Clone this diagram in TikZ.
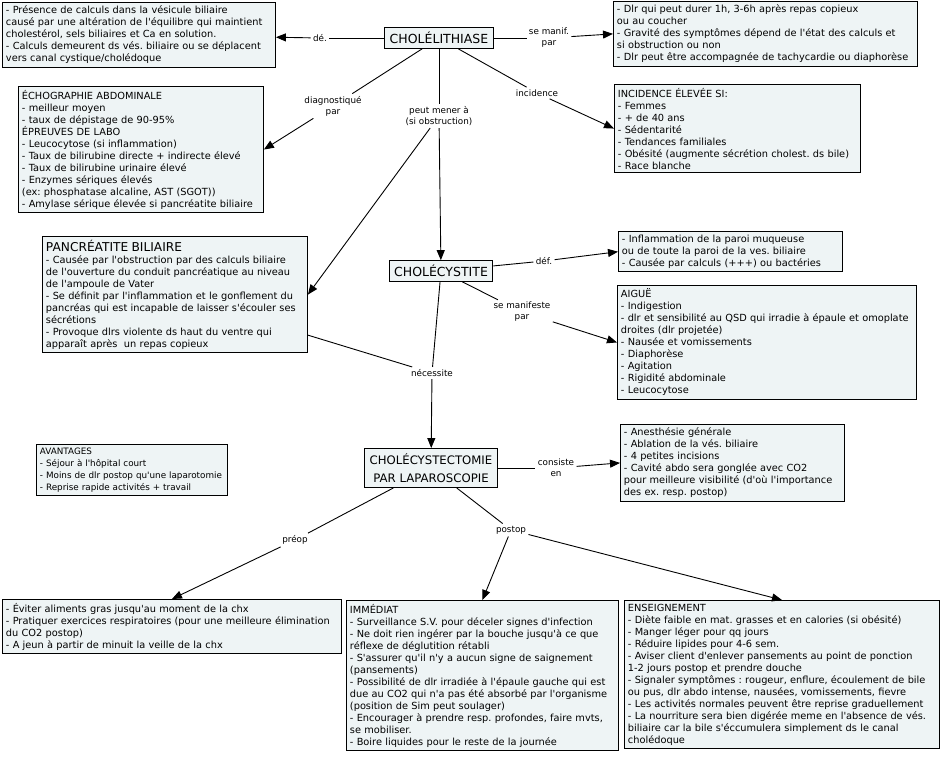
\documentclass[tikz,border=0pt]{standalone}
\usepackage{fontspec}
\setmainfont{DejaVu Sans}
\newfontfamily\mapfont{DejaVu Sans}
\usetikzlibrary{arrows.meta}
\definecolor{boxfill}{HTML}{EEF4F5}
\frenchspacing

\begin{document}
\begin{tikzpicture}[x=1pt,y=-1pt,line width=0.9pt,>={Triangle[length=10pt,width=8pt]}]
        %
        % `concept' is used for the three main boxes.
        % `infobox' is used for the text boxes, `link' for the linking words.
        \tikzstyle{concept} = [draw,fill=boxfill,align=center,font=\mapfont\fontsize{12.5}{14.5}\selectfont,inner xsep=5pt,inner ysep=4.5pt]
        \tikzstyle{infobox} = [draw,fill=boxfill,anchor=north west,align=left,font=\mapfont\fontsize{9.8}{12}\selectfont,inner xsep=3.5pt,inner ysep=3.5pt]
        \tikzstyle{link} = [align=center,font=\mapfont\fontsize{8.8}{11}\selectfont,inner sep=2pt]
        \useasboundingbox (0,0) rectangle (941,758);
        %
        % Concepts
        \node[concept] (chol) at (439,38) {CHOLÉLITHIASE};
        \node[concept] (cyst) at (441,271) {CHOLÉCYSTITE};
        \node[concept,font=\mapfont\fontsize{11.7}{18}\selectfont,inner ysep=5pt] (ectomie) at (431,468) {CHOLÉCYSTECTOMIE\\PAR LAPAROSCOPIE};
        %
        % Top row
        \node[infobox,text width=266] (defbox) at (2,2) {- Présence de calculs dans la vésicule biliaire\\
causé par une altération de l'équilibre qui maintient\\
cholestérol, sels biliaires et Ca en solution.\\
- Calculs demeurent ds vés. biliaire ou se déplacent\\
vers canal cystique/cholédoque};
        \node[infobox,text width=297] (manifbox) at (613,1) {- Dlr qui peut durer 1h, 3-6h après repas copieux\\
ou au coucher\\
- Gravité des symptômes dépend de l'état des calculs et\\
si obstruction ou non\\
- Dlr peut être accompagnée de tachycardie ou diaphorèse};
        %
        % Second row
        \node[infobox,text width=238] (echobox) at (18,86) {ÉCHOGRAPHIE ABDOMINALE\\
- meilleur moyen\\
- taux de dépistage de 90-95\%\\
ÉPREUVES DE LABO\\
- Leucocytose (si inflammation)\\
- Taux de bilirubine directe + indirecte élevé\\
- Taux de bilirubine urinaire élevé\\
- Enzymes sériques élevés\\
(ex: phosphatase alcaline, AST (SGOT))\\
- Amylase sérique élevée si pancréatite biliaire};
        \node[infobox,text width=239] (incbox) at (614,84) {INCIDENCE ÉLEVÉE SI:\\
- Femmes\\
- + de 40 ans\\
- Sédentarité\\
- Tendances familiales\\
- Obésité (augmente sécrétion cholest. ds bile)\\
- Race blanche};
        %
        % Third row
        \node[infobox,text width=258] (pancbox) at (42,236) {{\fontsize{12.2}{15}\selectfont PANCRÉATITE BILIAIRE}\\
- Causée par l'obstruction par des calculs biliaire\\
de l'ouverture du conduit pancréatique au niveau\\
de l'ampoule de Vater\\
- Se définit par l'inflammation et le gonflement du\\
pancréas qui est incapable de laisser s'écouler ses\\
sécrétions\\
- Provoque dlrs violente ds haut du ventre qui\\
apparaît après\ \ un repas copieux};
        \node[infobox,text width=217] (inflbox) at (618,231) {- Inflammation de la paroi muqueuse\\
ou de toute la paroi de la ves. biliaire\\
- Causée par calculs (+++) ou bactéries};
        \node[infobox,text width=292] (aiguebox) at (617,285) {AIGUË\\
- Indigestion\\
- dlr et sensibilité au QSD qui irradie à épaule et omoplate\\
droites (dlr projetée)\\
- Nausée et vomissements\\
- Diaphorèse\\
- Agitation\\
- Rigidité abdominale\\
- Leucocytose};
        %
        % Fourth row
        \node[infobox,text width=184,font=\mapfont\fontsize{8.8}{12}\selectfont] (avantbox) at (36,444) {AVANTAGES\\
- Séjour à l'hôpital court\\
- Moins de dlr postop qu'une laparotomie\\
- Reprise rapide activités + travail};
        \node[infobox,text width=217] (consbox) at (620,424) {- Anesthésie générale\\
- Ablation de la vés. biliaire\\
- 4 petites incisions\\
- Cavité abdo sera gonglée avec CO2\\
pour meilleure visibilité (d'où l'importance\\
des ex. resp. postop)};
        %
        % Bottom row
        \node[infobox,text width=332] (preopbox) at (2,599) {- Éviter aliments gras jusqu'au moment de la chx\\
- Pratiquer exercices respiratoires (pour une meilleure élimination\\
du CO2 postop)\\
- A jeun à partir de minuit la veille de la chx};
        \node[infobox,text width=265] (immedbox) at (346,600) {IMMÉDIAT\\
- Surveillance S.V. pour déceler signes d'infection\\
- Ne doit rien ingérer par la bouche jusqu'à ce que\\
réflexe de déglutition rétabli\\
- S'assurer qu'il n'y a aucun signe de saignement\\
(pansements)\\
- Possibilité de dlr irradiée à l'épaule gauche qui est\\
due au CO2 qui n'a pas été absorbé par l'organisme\\
(position de Sim peut soulager)\\
- Encourager à prendre resp. profondes, faire mvts,\\
se mobiliser.\\
- Boire liquides pour le reste de la journée};
        \node[infobox,text width=308] (ensbox) at (624,600) {ENSEIGNEMENT\\
- Diète faible en mat. grasses et en calories (si obésité)\\
- Manger léger pour qq jours\\
- Réduire lipides pour 4-6 sem.\\
- Aviser client d'enlever pansements au point de ponction\\
1-2 jours postop et prendre douche\\
- Signaler symptômes : rougeur, enflure, écoulement de bile\\
ou pus, dlr abdo intense, nausées, vomissements, fievre\\
- Les activités normales peuvent être reprise graduellement\\
- La nourriture sera bien digérée meme en l'absence de vés.\\
biliaire car la bile s'éccumulera simplement ds le canal\\
cholédoque};
        %
        % Linking words
        \node[link] (lde) at (320,38) {dé.};
        \node[link] (lmanif) at (549,38) {se manif.\\par};
        \node[link] (ldiag) at (333,106) {diagnostiqué\\par};
        \node[link] (lmener) at (439,116) {peut mener à\\(si obstruction)};
        \node[link] (lincid) at (537,93) {incidence};
        \node[link] (ldef) at (544,261) {déf.};
        \node[link] (lsemanif) at (522,312) {se manifeste\\par};
        \node[link] (lnecess) at (432,373) {nécessite};
        \node[link] (lconsiste) at (556,468) {consiste\\en};
        \node[link] (lpreop) at (295,540) {préop};
        \node[link] (lpostop) at (511,530) {postop};
        %
        % Connectors
        \draw (chol) -- (lde);
        \draw[->] (lde) -- (defbox);
        \draw (chol) -- (lmanif);
        \draw[->] (lmanif) -- (manifbox.west);
        \draw (chol) -- (ldiag);
        \draw[->] (ldiag) -- (echobox.east);
        \draw (chol) -- (lmener);
        \draw[->] (lmener) -- (cyst);
        \draw[->] (lmener) -- (pancbox.east);
        \draw (chol) -- (lincid);
        \draw[->] (lincid) -- (incbox.west);
        \draw (cyst) -- (ldef);
        \draw[->] (ldef) -- (inflbox.west);
        \draw (cyst) -- (lsemanif);
        \draw[->] (lsemanif) -- (aiguebox.west);
        \draw (cyst) -- (lnecess);
        \draw (pancbox) -- (lnecess);
        \draw[->] (lnecess) -- (ectomie);
        \draw (ectomie) -- (lconsiste);
        \draw[->] (lconsiste) -- (consbox.west);
        \draw (ectomie) -- (lpreop);
        \draw[->] (lpreop) -- (preopbox.north);
        \draw (ectomie) -- (lpostop);
        \draw[->] (lpostop) -- (immedbox.north);
        \draw[->] (lpostop) -- (ensbox.north);
\end{tikzpicture}
\end{document}
